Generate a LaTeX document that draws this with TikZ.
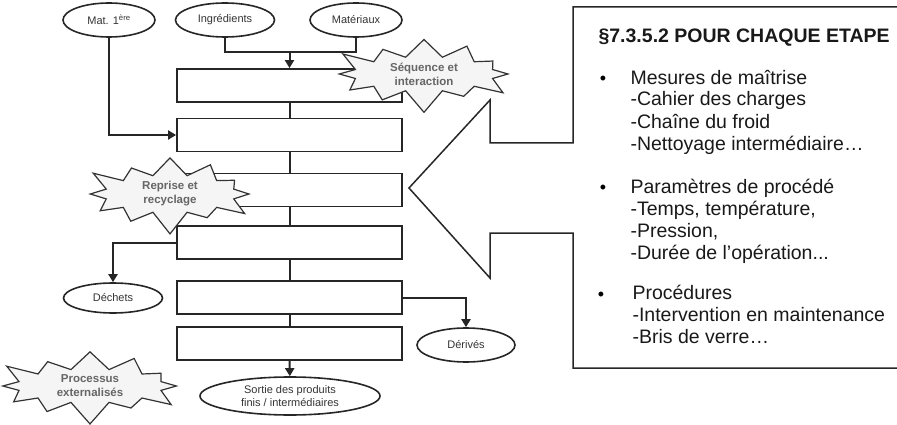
\documentclass[tikz,border=0pt]{standalone}
\usepackage{fontspec}
\setmainfont{Liberation Sans}
\usetikzlibrary{shapes.geometric,shapes.symbols,arrows.meta}

\begin{document}
\begin{tikzpicture}[x=1pt,y=-1pt,
  etape/.style={draw=black!85,line width=1.8pt,minimum width=225pt,minimum height=33pt,inner sep=0pt},
  flux/.style={draw=black!85,line width=1.6pt,ellipse,minimum width=92pt,minimum height=34pt,inner sep=0pt,text=black!80,font=\fontsize{11}{12.5}\selectfont,align=center},
  lien/.style={draw=black!85,line width=2pt},
  fleche/.style={lien,-{Triangle[length=8pt,width=9pt]}},
  eclat/.style={starburst,draw=black!80,line width=1.2pt,fill=gray!8,text=black!60,align=center,
    font=\bfseries\fontsize{11.5}{14}\selectfont,starburst points=12,starburst point height=24pt,
    minimum width=190pt,inner xsep=4pt,inner ysep=1pt},
  texte/.style={anchor=base west,align=left,text=black!90,font=\fontsize{19.5}{22}\selectfont},
  puce/.style={font=\fontsize{18}{18}\selectfont,inner sep=0pt}]
  \useasboundingbox (0,0) rectangle (897,425);
  \clip (0,0) rectangle (897,425);

  % Entrees
  \node[flux] (mat1) at (109,20) {Mat. 1\textsuperscript{ère}};
  \node[flux,minimum width=99pt] (ingr) at (225,20) {Ingrédients};
  \node[flux] (mater) at (356,20) {Matériaux};

  % Etapes du procede
  \node[etape] (e1) at (289.5,85.5) {};
  \node[etape] (e2) at (289.5,135) {};
  \node[etape] (e3) at (289.5,190) {};
  \node[etape] (e4) at (289.5,242.5) {};
  \node[etape] (e5) at (289.5,297.5) {};
  \node[etape] (e6) at (289.5,343.5) {};

  % Sorties
  \node[flux,minimum width=99pt,minimum height=30pt] (dechets) at (113,298) {Déchets};
  \node[flux,minimum width=98pt] (derives) at (466,345) {Dérivés};
  \node[flux,minimum width=180pt,minimum height=38pt] (sortie) at (290,396) {Sortie des produits\\finis / intermédiaires};

  % Liaisons
  \coordinate (jonction) at (289.5,52);
  \draw[lien] (ingr.south) |- (jonction) -| (mater.south);
  \draw[fleche] (jonction) -- (e1.north);
  \draw[fleche] (mat1.south) |- (e2.west);
  \draw[lien] (e1) -- (e2);
  \draw[lien] (e2) -- (e3);
  \draw[lien] (e3) -- (e4);
  \draw[lien] (e4) -- (e5);
  \draw[lien] (e5) -- (e6);
  \draw[fleche] (e4.west) -| (dechets.north);
  \draw[fleche] (e5.east) -| (derives.north);
  \draw[fleche] (e6) -- (sortie);

  % Eclats
  \node[eclat] (sequence) at (424,74) {Séquence et\\interaction};
  \node[eclat,minimum width=180pt] (reprise) at (170,194) {Reprise et\\recyclage};
  \node[eclat,minimum width=195pt] (externe) at (90,386) {Processus\\externalisés};

  % Bulle de l'etape (base de la derniere ligne pour chaque bloc)
  \draw[draw=black!85,line width=1.5pt] (409,188) -- (490,100) -- (490,143) -- (573,143) -- (573,7)
    -- (920,7) -- (920,368) -- (573,368) -- (573,233) -- (490,233) -- (490,278) -- cycle;
  \node[anchor=base west,font=\bfseries\fontsize{19.5}{22}\selectfont,text=black!90] (titre) at (595,43) {§7.3.5.2 POUR CHAQUE ETAPE};
  \node[texte] (maitrise) at (627,150) {Mesures de maîtrise\\-Cahier des charges\\-Chaîne du froid\\-Nettoyage intermédiaire…};
  \node[texte] (parametres) at (627,259) {Paramètres de procédé\\-Temps, température,\\-Pression,\\-Durée de l’opération...};
  \node[texte] (procedures) at (629,343) {Procédures\\-Intervention en maintenance\\-Bris de verre…};
  \node[puce] (p1) at (603,80) {•};
  \node[puce] (p2) at (603,189) {•};
  \node[puce] (p3) at (601,296) {•};
\end{tikzpicture}
\end{document}
